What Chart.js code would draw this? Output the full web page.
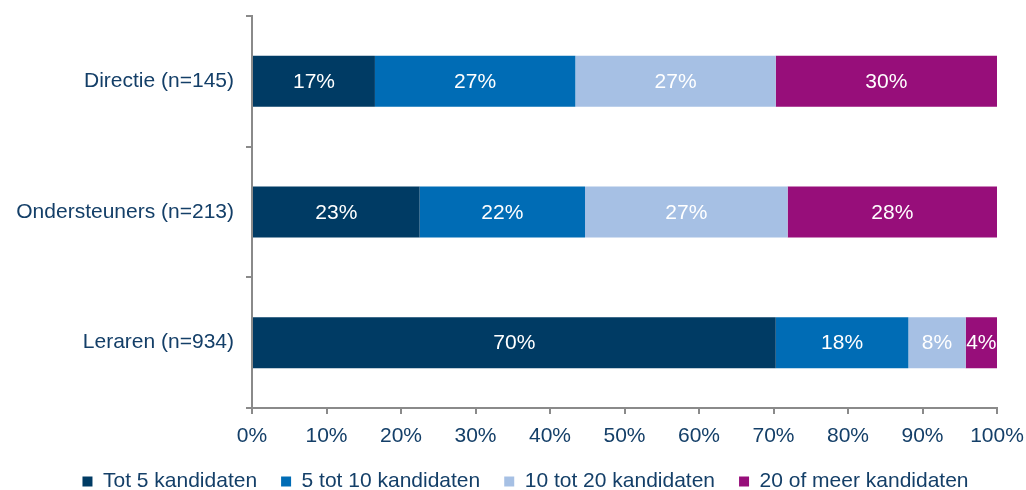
<!DOCTYPE html>
<html>
<head>
<meta charset="utf-8">
<script src="https://cdn.jsdelivr.net/npm/chart.js@4"></script>
<style>
  html, body { margin: 0; padding: 0; background: #fff; }
  #wrap { width: 1026px; height: 490px; }
</style>
</head>
<body>
<div id="wrap"><canvas id="chart" width="1026" height="490"></canvas></div>
<script>
const categories = ['Directie (n=145)', 'Ondersteuners (n=213)', 'Leraren (n=934)'];
const seriesNames = ['Tot 5 kandidaten', '5 tot 10 kandidaten', '10 tot 20 kandidaten', '20 of meer kandidaten'];
const tot5 = [16.5, 22.5, 70.3];
const tot10 = [26.9, 22.2, 17.8];
const tot20 = [26.9, 27.2, 7.7];
const meer20 = [29.7, 28.1, 4.2];
const xTicks = [0, 10, 20, 30, 40, 50, 60, 70, 80, 90, 100];

const colors = ['#003B64', '#006CB5', '#A6C0E4', '#970E7A'];
const textColor = '#143F68';
const axisColor = '#8a8a8a';
const font = { family: '"Liberation Sans", Arial, sans-serif', size: 21 };

// white percentages in the middle of each segment
const segmentLabels = {
  id: 'segmentLabels',
  afterDatasetsDraw(chart) {
    const ctx = chart.ctx;
    ctx.save();
    ctx.fillStyle = '#fff';
    ctx.font = font.size + 'px ' + font.family;
    ctx.textAlign = 'center';
    ctx.textBaseline = 'middle';
    chart.data.datasets.forEach((ds, i) => {
      chart.getDatasetMeta(i).data.forEach((bar, j) => {
        const x = (bar.x + bar.base) / 2;
        ctx.fillText(Math.round(ds.data[j]) + '%', x, bar.y + 1);
      });
    });
    ctx.restore();
  }
};

// the original legend sits a bit right of the canvas center
const legendShift = {
  id: 'legendShift',
  afterLayout(chart) {
    chart.legend.left += 27;
    chart.legend.right += 27;
  }
};

new Chart(document.getElementById('chart'), {
  type: 'bar',
  data: {
    labels: categories,
    datasets: [tot5, tot10, tot20, meer20].map((d, i) => ({
      label: seriesNames[i],
      data: d,
      backgroundColor: colors[i],
      borderWidth: 0,
      categoryPercentage: 1,
      barPercentage: 0.39
    }))
  },
  options: {
    indexAxis: 'y',
    responsive: false,
    animation: false,
    layout: { padding: { top: 16, right: 29, left: 0, bottom: -12 } },
    scales: {
      x: {
        stacked: true,
        min: 0,
        max: 100,
        afterBuildTicks: (scale) => { scale.ticks = xTicks.map(v => ({ value: v })); },
        afterFit: (scale) => { scale.height = 39; scale.paddingLeft = 0; scale.paddingRight = 0; },
        border: { color: axisColor, width: 2 },
        grid: { drawOnChartArea: false, drawTicks: true, tickLength: 6, color: axisColor, lineWidth: 2 },
        ticks: { color: textColor, font: font, padding: 10, maxRotation: 0, callback: v => v + '%' }
      },
      y: {
        stacked: true,
        afterFit: (scale) => { scale.width = 252; scale.paddingTop = 0; scale.paddingBottom = 0; },
        border: { color: axisColor, width: 2 },
        grid: { offset: true, drawOnChartArea: false, drawTicks: true, tickLength: 6, color: axisColor, lineWidth: 2 },
        ticks: { color: textColor, font: font, padding: 12 }
      }
    },
    plugins: {
      legend: {
        position: 'bottom',
        labels: { color: textColor, font: font, boxWidth: 10, boxHeight: 10, padding: 24 }
      },
      tooltip: { enabled: false }
    }
  },
  plugins: [segmentLabels, legendShift]
});
</script>
</body>
</html>
